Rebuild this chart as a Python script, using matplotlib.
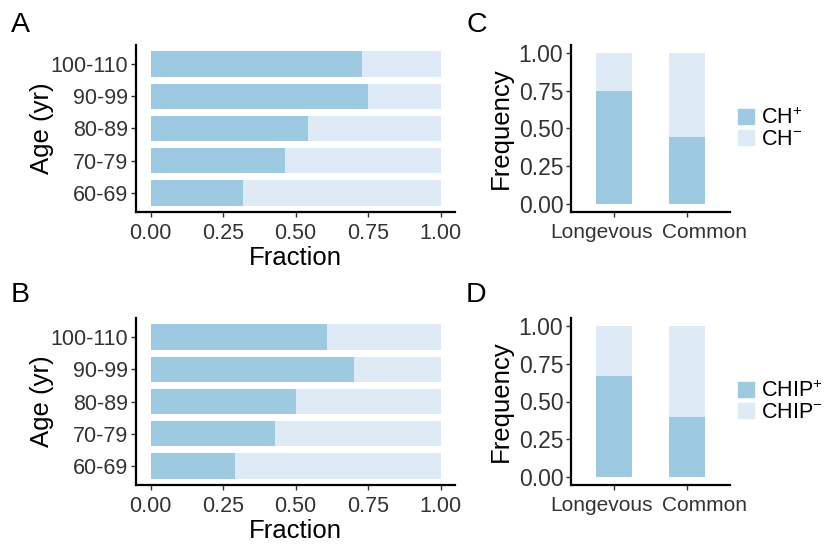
import matplotlib.pyplot as plt
from matplotlib.patches import Patch
from matplotlib.transforms import ScaledTranslation

plt.rcParams['font.family'] = ['Liberation Sans', 'DejaVu Sans']
plt.rcParams['mathtext.default'] = 'regular'

# data
age_groups = ['60-69', '70-79', '80-89', '90-99', '100-110']
ch_frac_a = [0.319, 0.463, 0.542, 0.749, 0.731]
chip_frac_b = [0.293, 0.429, 0.500, 0.703, 0.609]
groups = ['Longevous', 'Common']
ch_freq = [0.747, 0.443]
chip_freq = [0.666, 0.400]

dark = '#9ECAE1'
light = '#DEEBF7'
tick_col = '#333333'

fig = plt.figure(figsize=(8.25, 5.44), dpi=100)
W, H = 825, 544


def add_ax(l, t, r, b):
    return fig.add_axes([l / W, 1 - b / H, (r - l) / W, (b - t) / H])


def style(ax, size):
    for s in ['top', 'right']:
        ax.spines[s].set_visible(False)
    for s in ['left', 'bottom']:
        ax.spines[s].set_linewidth(1.6)
        ax.spines[s].set_color('black')
    ax.tick_params(length=3.5, width=1.0, color=tick_col, labelcolor=tick_col,
                   labelsize=size, pad=2)
    ax.tick_params(axis='x', pad=4.5)


def hbars(ax, vals):
    y = range(len(age_groups))
    ax.barh(y, [1] * len(vals), height=0.8, color=light)
    ax.barh(y, vals, height=0.8, color=dark)
    ax.set_yticks(list(y))
    ax.set_yticklabels(age_groups)
    ax.set_ylim(-0.6, len(age_groups) - 0.4)
    ax.set_xlim(-0.05, 1.05)
    ax.set_xticks([0, 0.25, 0.5, 0.75, 1.0])
    ax.set_xticklabels(['0.00', '0.25', '0.50', '0.75', '1.00'])
    ax.set_xlabel('Fraction', fontsize=18.5, labelpad=1.5)
    ax.set_ylabel('Age (yr)', fontsize=18.5, labelpad=-2)
    style(ax, 15.5)


def vbars(ax, vals, lab_pos, lab_neg):
    x = range(len(groups))
    ax.bar(x, [1] * len(vals), width=0.5, color=light)
    ax.bar(x, vals, width=0.5, color=dark)
    ax.set_xticks(list(x))
    ax.set_xticklabels(groups)
    ax.set_xlim(-0.6, len(groups) - 0.4)
    ax.set_ylim(-0.05, 1.05)
    ax.set_yticks([0, 0.25, 0.5, 0.75, 1.0])
    ax.set_yticklabels(['0.00', '0.25', '0.50', '0.75', '1.00'])
    ax.set_ylabel('Frequency', fontsize=18.5, labelpad=4)
    style(ax, 16.5)
    ax.tick_params(axis='x', labelsize=15)
    # labels sit a bit apart from their ticks in the reference
    for lab, dx in zip(ax.get_xticklabels(), [-13, 18]):
        lab.set_transform(lab.get_transform() + ScaledTranslation(dx / 100, 0, fig.dpi_scale_trans))
    handles = [Patch(color=dark), Patch(color=light)]
    ax.legend(handles, [lab_pos, lab_neg], loc='center left',
              bbox_to_anchor=(1.025, 0.5), frameon=False, fontsize=15.5,
              handlelength=0.72, handleheight=0.72, handletextpad=0.35,
              labelspacing=0.0, borderaxespad=0, borderpad=0.2)


ax_a = add_ax(136, 45, 455, 212)
hbars(ax_a, ch_frac_a)
ax_b = add_ax(136, 318, 455, 485)
hbars(ax_b, chip_frac_b)
ax_c = add_ax(571, 45, 730, 212)
vbars(ax_c, ch_freq, 'CH$^{+}$', 'CH$^{-}$')
ax_d = add_ax(571, 318, 730, 485)
vbars(ax_d, chip_freq, 'CHIP$^{+}$', 'CHIP$^{-}$')

for lab, x, y in [('A', 11, 12), ('B', 11, 282), ('C', 466, 12), ('D', 466, 282)]:
    fig.text(x / W, 1 - y / H, lab, fontsize=20.5, va='top', ha='left')

fig.savefig('out.png', dpi=100)
